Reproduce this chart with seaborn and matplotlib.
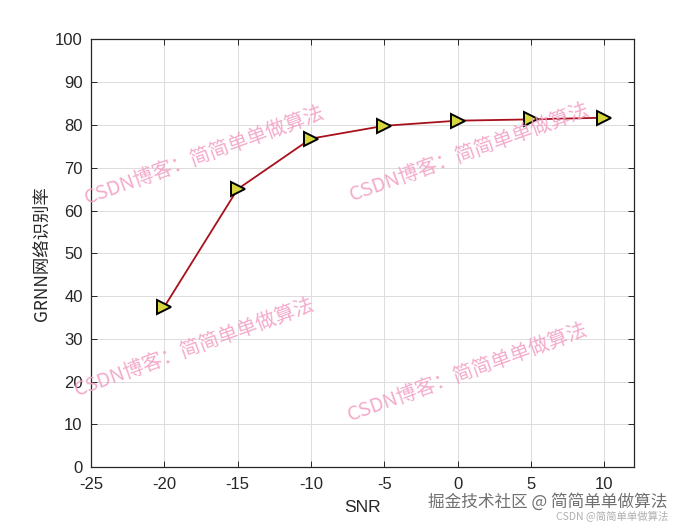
import numpy as np
import pandas as pd
import matplotlib
matplotlib.use("Agg")
import matplotlib.pyplot as plt
import seaborn as sns

snr = [-20, -15, -10, -5, 0, 5, 10]
acc = [37.5, 65.0, 76.8, 79.8, 81.0, 81.3, 81.7]
xticks = [-25, -20, -15, -10, -5, 0, 5, 10]
yticks = list(range(0, 101, 10))

sns.set_style("white")
plt.rcParams['font.family'] = ['Noto Sans CJK SC', 'DejaVu Sans']
plt.rcParams['axes.unicode_minus'] = False

fig = plt.figure(figsize=(7, 5.25), dpi=100)
ax = fig.add_axes([0.13, 0.11, 0.775, 0.815])

df = pd.DataFrame({"SNR": snr, "acc": acc})
sns.lineplot(data=df, x="SNR", y="acc", ax=ax, color="#a8101c", linewidth=1.3,
             marker=">", markersize=9.5, markerfacecolor="#d6d63e",
             markeredgecolor="black", markeredgewidth=1.4)

lab_font = ['Arial', 'Liberation Sans', 'DejaVu Sans']
ax.set_xlim(-25, 12)
ax.set_ylim(0, 100)
ax.set_xticks(xticks)
ax.set_yticks(yticks)
ax.set_xticklabels([str(t) for t in xticks], family=lab_font)
ax.set_yticklabels([str(t) for t in yticks], family=lab_font)
ax.tick_params(direction='in', length=4, width=0.7, labelsize=12, colors='#262626',
               top=True, right=True, bottom=True, left=True)
ax.tick_params(axis='x', pad=7)
ax.tick_params(axis='y', pad=6)
ax.grid(True, color='#dcdcdc', linewidth=0.7)
for s in ax.spines.values():
    s.set_color('#262626')
    s.set_linewidth(0.9)
ax.set_xlabel("SNR", fontsize=12.5, color='#262626', labelpad=6,
              family=lab_font)
ax.set_ylabel("GRNN网络识别率", fontsize=12.5, color='#262626', labelpad=3)

wm = "CSDN博客：简简单单做算法"
for (x, y) in [(205, 155), (470, 152), (195, 347), (468, 372)]:
    fig.text(x / 700, 1 - y / 525, wm, fontsize=14.5, color='#f3a2c6', alpha=0.9,
             rotation=20, ha='center', va='center', rotation_mode='anchor',
             family=['Noto Sans CJK SC', 'DejaVu Sans'])

fig.text(548 / 700, 1 - 502 / 525, "掘金技术社区 @ 简简单单做算法", fontsize=12,
         color='#707070', ha='center', va='center')
fig.text(612 / 700, 1 - 517 / 525, "CSDN @简简单单做算法", fontsize=7.5,
         color='#b0b0b0', ha='center', va='center')

fig.savefig("out.png", dpi=100)
